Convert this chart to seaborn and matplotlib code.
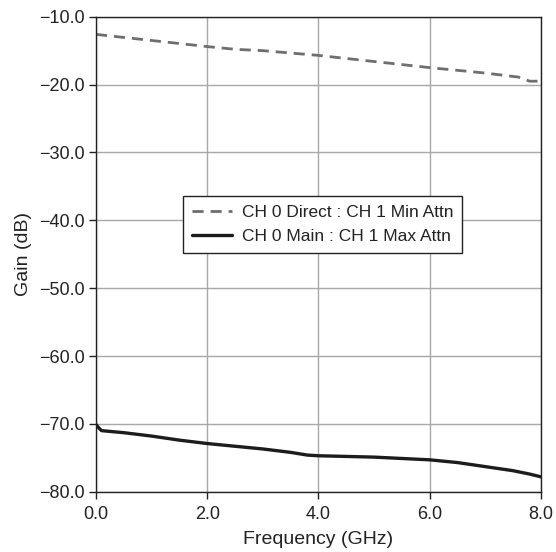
import pandas as pd
import matplotlib
matplotlib.use("Agg")
import matplotlib.pyplot as plt
import seaborn as sns

# values
freq_direct = [0.0, 1.0, 2.0, 2.5, 3.0, 4.0, 5.0, 6.0, 7.0, 7.6, 7.8, 8.0]
gain_direct = [-12.6, -13.5, -14.4, -14.8, -15.0, -15.7, -16.6, -17.5, -18.3, -18.9, -19.5, -19.5]

freq_main = [0.0, 0.05, 0.1, 0.5, 1.0, 1.5, 2.0, 2.5, 3.0, 3.5, 3.8, 4.0,
             4.5, 5.0, 5.5, 6.0, 6.5, 7.0, 7.5, 7.8, 8.0]
gain_main = [-70.1, -70.6, -71.0, -71.3, -71.8, -72.4, -72.9, -73.3, -73.7, -74.2, -74.6, -74.7,
             -74.8, -74.9, -75.1, -75.3, -75.7, -76.3, -76.9, -77.4, -77.8]

labels = ["CH 0 Direct : CH 1 Min Attn", "CH 0 Main : CH 1 Max Attn"]
x_ticks = [0, 2, 4, 6, 8]
y_ticks = [-80, -70, -60, -50, -40, -30, -20, -10]

sns.set_theme(style="white")
plt.rcParams['font.family'] = ['Liberation Sans', 'DejaVu Sans']

df_direct = pd.DataFrame({'freq': freq_direct, 'gain': gain_direct})
df_main = pd.DataFrame({'freq': freq_main, 'gain': gain_main})

fig = plt.figure(figsize=(5.56, 5.52), dpi=100)
ax = fig.add_axes([0.1727, 0.1092, 0.8, 0.8605])

sns.lineplot(data=df_direct, x='freq', y='gain', ax=ax, color='#6e6e6e',
             linewidth=2.0, linestyle=(0, (4, 2.5)), label=labels[0])
sns.lineplot(data=df_main, x='freq', y='gain', ax=ax, color='#1c1c1c',
             linewidth=2.4, label=labels[1])

ax.set_xlim(0, 8)
ax.set_ylim(-80, -10)
ax.set_xticks(x_ticks)
ax.set_yticks(y_ticks)
ax.set_xticklabels([f"{v:.1f}" for v in x_ticks], fontsize=13, color='#222222')
ax.set_yticklabels([f"\u2212{abs(v):.1f}" for v in y_ticks], fontsize=13, color='#222222')
ax.set_xlabel("Frequency (GHz)", fontsize=14, labelpad=6, color='#222222')
ax.set_ylabel("Gain (dB)", fontsize=14, labelpad=5, color='#222222')

ax.grid(True, color='#a8a8a8', linewidth=1.0)
ax.set_axisbelow(True)
for s in ax.spines.values():
    s.set_color('#222222')
    s.set_linewidth(1.0)
ax.tick_params(axis='both', direction='out', length=5, width=1.0, color='#222222',
               left=True, bottom=True)
ax.tick_params(axis='x', pad=5)
ax.tick_params(axis='y', pad=3)

leg = ax.legend(loc='center', bbox_to_anchor=(0.51, 0.5625), fontsize=12.5,
                frameon=True, fancybox=False, handlelength=2.3, borderpad=0.5,
                labelspacing=0.5, handletextpad=0.6)
leg.get_frame().set_edgecolor('#222222')
leg.get_frame().set_linewidth(1.0)
leg.get_frame().set_alpha(1.0)
for t in leg.get_texts():
    t.set_color('#222222')

fig.savefig("out.png", dpi=100)
